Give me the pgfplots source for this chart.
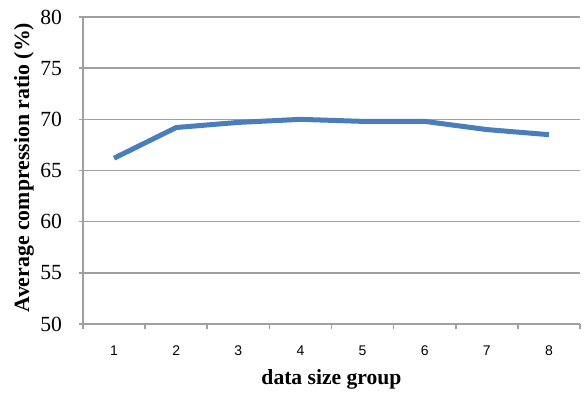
\documentclass[border=0pt]{standalone}
\usepackage{fontspec}
\setmainfont{Liberation Serif}
\newfontfamily\arial{Liberation Sans}
\usepackage{pgfplots}
\pgfplotsset{compat=1.18}
\definecolor{gridgray}{RGB}{160,160,160}
\definecolor{lineblue}{RGB}{74,126,187}
\begin{document}
\begin{tikzpicture}
\begin{axis}[
  scale only axis,
  width=248.5pt, height=153.5pt,
  xmin=0.5, xmax=8.5, ymin=50, ymax=80,
  axis x line*=bottom, axis y line*=left,
  axis line style={gridgray, line width=0.8pt},
  xtick={1,...,8},
  minor xtick={0.5,1.5,...,8.5},
  ytick={50,55,...,80},
  tick align=outside,
  major x tick style={draw=none},
  minor x tick style={gridgray, line width=0.8pt},
  minor tick length=2.5pt,
  major tick length=2pt,
  y tick style={gridgray, line width=0.8pt},
  ymajorgrids,
  grid style={gridgray, line width=0.8pt},
  /pgf/number format/assume math mode=true,
  xticklabel style={font=\arial\fontsize{7}{8}\selectfont, anchor=center, yshift=-11.5pt},
  yticklabel style={font=\fontsize{10.8}{12}\selectfont, xshift=-5pt},
  xlabel={\textbf{data size group}},
  ylabel={\textbf{Average compression ratio (\%)}},
  xlabel style={font=\fontsize{10.8}{12}\selectfont, at={(axis description cs:0.5,-0.18)}, anchor=center},
  ylabel style={font=\fontsize{10.9}{12}\selectfont, at={(axis description cs:-0.1187,0.51)}, anchor=center},
]
\addplot[lineblue, line width=2.5pt, mark=none, line join=round] coordinates {
  (1,66.2) (2,69.2) (3,69.7) (4,70.0) (5,69.8) (6,69.8) (7,69.0) (8,68.5)
};
\end{axis}
\pgfresetboundingbox
\useasboundingbox ([xshift=-41.5pt,yshift=-34pt]current axis.south west) rectangle ([xshift=2.5pt,yshift=8.5pt]current axis.north east);
\end{tikzpicture}
\end{document}
